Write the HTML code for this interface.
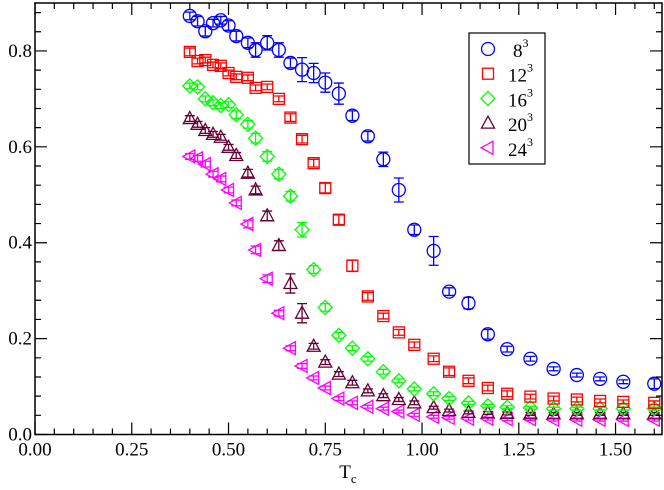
<!DOCTYPE html>
<html><head><meta charset="utf-8">
<style>
html,body{margin:0;padding:0;background:#fff;}
svg{display:block;}
svg text{font-family:"Liberation Serif","DejaVu Serif",serif;}
</style></head>
<body>
<svg id="chart" width="664" height="490" viewBox="0 0 664 490" xmlns="http://www.w3.org/2000/svg" font-family="Liberation Serif, serif">
<rect x="0" y="0" width="664" height="490" fill="#fff"/>
<g id="marks"></g>
<g id="axes"></g>
<text x="348" y="478" font-size="19" font-family="Liberation Serif, serif" text-anchor="middle">T<tspan font-size="13" dy="5">c</tspan></text>
<g>
<rect x="469" y="33" width="76" height="131" fill="#fff" stroke="#000" stroke-width="1.2"/>
<g id="legend-items"></g>
</g>
</svg>
<script>
const T = [0.40,0.42,0.44,0.46,0.48,0.50,0.52,0.55,0.57,0.60,0.63,0.66,0.69,0.72,0.75,0.785,0.82,0.86,0.90,0.94,0.98,1.03,1.07,1.12,1.17,1.22,1.28,1.34,1.40,1.46,1.52,1.60];
const seriesLabels = ["8","12","16","20","24"];
const v8  = [0.873,0.862,0.841,0.858,0.864,0.853,0.831,0.817,0.802,0.817,0.802,0.775,0.761,0.754,0.734,0.711,0.665,0.622,0.574,0.51,0.427,0.383,0.298,0.274,0.209,0.178,0.158,0.137,0.124,0.116,0.11,0.106];
const e8  = [0.008,0.01,0.01,0.008,0.008,0.01,0.01,0.01,0.015,0.015,0.015,0.01,0.025,0.02,0.02,0.022,0.01,0.01,0.015,0.025,0.01,0.03,0.008,0.012,0.01,0.006,0.005,0.004,0.004,0.004,0.004,0.01];
const v12 = [0.798,0.779,0.781,0.771,0.769,0.754,0.746,0.744,0.723,0.725,0.70,0.661,0.616,0.566,0.514,0.448,0.352,0.288,0.247,0.213,0.187,0.158,0.131,0.112,0.097,0.085,0.079,0.075,0.073,0.07,0.068,0.066];
const e12 = [0.008,0.006,0.006,0.006,0.006,0.006,0.006,0.006,0.006,0.006,0.006,0.008,0.008,0.008,0.01,0.01,0.012,0.008,0.006,0.006,0.006,0.006,0.008,0.006,0.006,0.006,0.005,0.005,0.005,0.004,0.004,0.004];
const v16 = [0.727,0.725,0.70,0.692,0.686,0.688,0.667,0.647,0.618,0.58,0.543,0.497,0.427,0.344,0.265,0.207,0.18,0.158,0.131,0.112,0.095,0.085,0.075,0.066,0.06,0.057,0.056,0.054,0.054,0.054,0.054,0.054];
const e16 = [0.006,0.006,0.006,0.006,0.006,0.006,0.008,0.008,0.01,0.01,0.01,0.01,0.015,0.008,0.008,0.006,0.005,0.005,0.005,0.004,0.004,0.004,0.004,0.003,0.003,0.003,0.003,0.003,0.003,0.003,0.003,0.003];
const v20 = [0.659,0.647,0.634,0.626,0.62,0.599,0.582,0.545,0.51,0.456,0.394,0.315,0.253,0.184,0.151,0.126,0.108,0.091,0.081,0.073,0.066,0.056,0.05,0.046,0.045,0.044,0.043,0.043,0.043,0.043,0.043,0.043];
const e20 = [0.006,0.006,0.006,0.006,0.006,0.006,0.006,0.008,0.008,0.01,0.01,0.02,0.02,0.006,0.005,0.005,0.005,0.004,0.004,0.004,0.004,0.003,0.003,0.003,0.003,0.003,0.003,0.003,0.003,0.003,0.003,0.003];
const v24 = [0.58,0.576,0.564,0.543,0.533,0.51,0.483,0.439,0.385,0.325,0.253,0.18,0.143,0.118,0.097,0.075,0.066,0.058,0.054,0.048,0.041,0.037,0.035,0.033,0.033,0.032,0.032,0.031,0.031,0.031,0.031,0.031];
const e24 = [0.006,0.006,0.006,0.006,0.006,0.006,0.006,0.008,0.008,0.008,0.006,0.005,0.005,0.004,0.004,0.004,0.004,0.003,0.003,0.003,0.003,0.003,0.003,0.003,0.003,0.003,0.003,0.003,0.003,0.003,0.003,0.003];
const xTicks = ["0.00","0.25","0.50","0.75","1.00","1.25","1.50"];
const yTicks = ["0.0","0.2","0.4","0.6","0.8"];

const NS="http://www.w3.org/2000/svg";
const FF="Liberation Serif, serif";
const L=35,R=662,TOP=3,B=434.5, XMAX=1.62, YMAX=0.9;
const xs=v=>L+v/XMAX*(R-L);
const ys=v=>B-v/YMAX*(B-TOP);
function mk(tag,at,parent){const e=document.createElementNS(NS,tag);for(const k in at)e.setAttribute(k,at[k]);parent.appendChild(e);return e;}
const marks=document.getElementById('marks');
const axes=document.getElementById('axes');
const colors=["#0000ff","#ff0000","#00ff00","#660033","#ff00ff"];
const shapes=["circle","square","diamond","triangle","left"];
const vals=[v8,v12,v16,v20,v24];
const errs=[e8,e12,e16,e20,e24];
function shape(kind,cx,cy,col,parent){
  let e;
  if(kind==="circle") e=mk('circle',{cx:cx,cy:cy,r:6.5},parent);
  else if(kind==="square") e=mk('rect',{x:cx-5.5,y:cy-5.5,width:11,height:11},parent);
  else if(kind==="diamond") e=mk('polygon',{points:`${cx},${cy-7} ${cx+7},${cy} ${cx},${cy+7} ${cx-7},${cy}`},parent);
  else if(kind==="triangle") e=mk('polygon',{points:`${cx},${cy-7} ${cx+6.5},${cy+5} ${cx-6.5},${cy+5}`},parent);
  else e=mk('polygon',{points:`${cx-7},${cy} ${cx+5},${cy-6.5} ${cx+5},${cy+6.5}`},parent);
  e.setAttribute('fill','none');e.setAttribute('stroke',col);e.setAttribute('stroke-width','1.3');
  return e;
}
for(let s=4;s>=0;s--){
  const g=mk('g',{},marks);
  
  
  for(let i=0;i<T.length;i++){
    const cx=xs(T[i]),cy=ys(vals[s][i]);
    const y1=ys(vals[s][i]+errs[s][i]),y2=ys(vals[s][i]-errs[s][i]);
    const eb=mk('path',{d:`M${cx},${y1}V${y2}M${cx-5},${y1}H${cx+5}M${cx-5},${y2}H${cx+5}`,stroke:colors[s],'stroke-width':1.3,fill:'none'},g);
    
    
    const p=shape(shapes[s],cx,cy,colors[s],g);
    
    
  }
}
const fr=mk('rect',{x:L,y:TOP,width:R-L,height:B-TOP,fill:'none',stroke:'#000','stroke-width':1.5},axes);


for(let k=0;k*0.05<=XMAX+1e-9;k++){
  const v=k*0.05,x=xs(v),len=(k%5===0)?12:6;
  mk('path',{d:`M${x},${B}v${-len}M${x},${TOP}v${len}`,stroke:'#000','stroke-width':1.2},axes);
}
xTicks.forEach(t=>{
  const tx=mk('text',{x:xs(parseFloat(t)),y:B+21,'font-size':19,'font-family':FF,'text-anchor':'middle'},axes);
  tx.textContent=t;
  
  
});
for(let k=0;k*0.04<=YMAX+1e-9;k++){
  const v=k*0.04,y=ys(v),len=(k%5===0)?12:6;
  mk('path',{d:`M${L},${y}h${len}M${R},${y}h${-len}`,stroke:'#000','stroke-width':1.2},axes);
}
yTicks.forEach(t=>{
  const ty=mk('text',{x:L-3,y:ys(parseFloat(t))+6,'font-size':19,'font-family':FF,'text-anchor':'end'},axes);
  ty.textContent=t;
  
  
});
const li=document.getElementById('legend-items');
for(let s=0;s<5;s++){
  const y=49+s*24.7;
  const g=mk('g',{},li);
  
  
  shape(shapes[s],488,y,colors[s],g);
  const t=mk('text',{x:s===0?513:508,y:y+8,'font-size':19,'font-family':FF},g);
  t.textContent=seriesLabels[s];
  const sup=document.createElementNS(NS,'tspan');
  sup.setAttribute('font-size','12');sup.setAttribute('dy','-10');sup.textContent='3';
  t.appendChild(sup);
}
</script>
</body></html>
